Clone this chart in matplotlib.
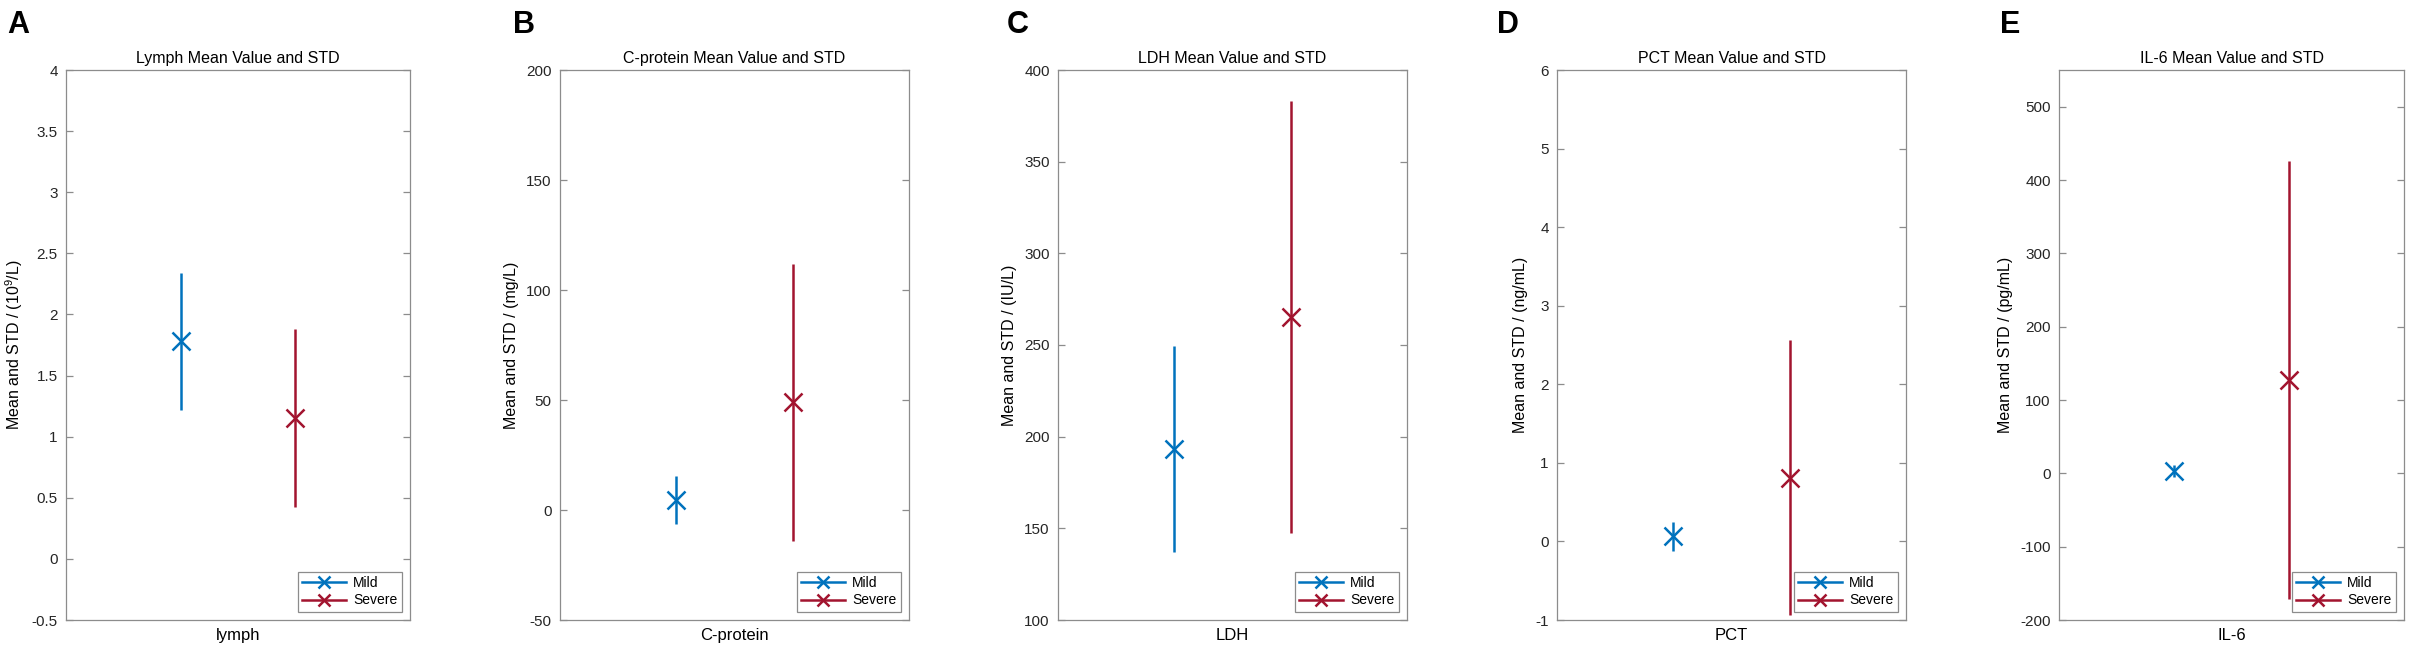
import numpy as np
import matplotlib
matplotlib.use('Agg')
import matplotlib.pyplot as plt
from matplotlib.lines import Line2D

plt.rcParams['font.family'] = ['Liberation Sans', 'DejaVu Sans']
plt.rcParams['mathtext.default'] = 'regular'
plt.rcParams['axes.unicode_minus'] = False

# values
panel_tags = ['A', 'B', 'C', 'D', 'E']
categories = ['lymph', 'C-protein', 'LDH', 'PCT', 'IL-6']
titles = ['Lymph', 'C-protein', 'LDH', 'PCT', 'IL-6']
units = ['(10$^{9}$/L)', '(mg/L)', '(IU/L)', '(ng/mL)', '(pg/mL)']
mild_mean = [1.78, 4.5, 193.3, 0.065, 3]
mild_std = [0.56, 10.8, 56.4, 0.185, 8]
severe_mean = [1.155, 49, 265.3, 0.81, 127]
severe_std = [0.73, 63, 118, 1.75, 299]
y_ticks = [np.arange(-0.5, 4.01, 0.5),
           np.arange(-50, 201, 50),
           np.arange(100, 401, 50),
           np.arange(-1, 7, 1),
           np.arange(-200, 501, 100)]
y_limits = [(-0.5, 4), (-50, 200), (100, 400), (-1, 6), (-200, 550)]

blue = '#0072BD'
red = '#A2142F'
frame = '#8c8c8c'

W, H = 2410, 652
fig = plt.figure(figsize=(W / 100, H / 100), dpi=100)

# axes boxes in pixels (left, right), shared top / bottom
lefts = [66, 560, 1058, 1557, 2059]
rights = [410, 909, 1407, 1906, 2404]
tag_x = [7, 513, 1007, 1497, 2000]
top, bottom = 70, 620

for i in range(5):
    ax = fig.add_axes([lefts[i] / W, (H - bottom) / H,
                       (rights[i] - lefts[i]) / W, (bottom - top) / H])
    ax.errorbar(1, mild_mean[i], yerr=mild_std[i], fmt='x', color=blue,
                ms=13, mew=1.8, elinewidth=1.8, capsize=0)
    ax.errorbar(2, severe_mean[i], yerr=severe_std[i], fmt='x', color=red,
                ms=13, mew=1.8, elinewidth=1.8, capsize=0)
    ax.set_xlim(0, 3)
    ax.set_ylim(*y_limits[i])
    ax.set_xticks([])
    ax.set_yticks(y_ticks[i])
    ax.set_yticklabels([f'{v:g}' for v in y_ticks[i]])
    ax.tick_params(axis='y', direction='in', left=True, right=True,
                   length=5, width=0.9, color=frame, labelsize=11,
                   labelcolor='#262626', pad=6)
    for s in ax.spines.values():
        s.set_color(frame)
        s.set_linewidth(0.9)
    ax.set_title(titles[i] + ' Mean Value and STD', fontsize=11.5, pad=5)
    ax.set_xlabel(categories[i], fontsize=12, labelpad=6)
    ax.set_ylabel('Mean and STD / ' + units[i], fontsize=11.5, labelpad=5)

    handles = [Line2D([], [], color=blue, lw=1.8, marker='x', ms=8, mew=1.8),
               Line2D([], [], color=red, lw=1.8, marker='x', ms=8, mew=1.8)]
    leg = ax.legend(handles, ['Mild', 'Severe'], loc='lower right',
                    fontsize=10, fancybox=False, framealpha=1,
                    edgecolor=frame, handlelength=3.2, handletextpad=0.5,
                    borderpad=0.3, labelspacing=0.25, borderaxespad=0.6)
    leg.get_frame().set_linewidth(0.9)

    fig.text(tag_x[i] / W, 1 - 10 / H, panel_tags[i], fontsize=22,
             fontweight='bold', ha='left', va='top')

fig.savefig('out.png', dpi=100, facecolor='white')
